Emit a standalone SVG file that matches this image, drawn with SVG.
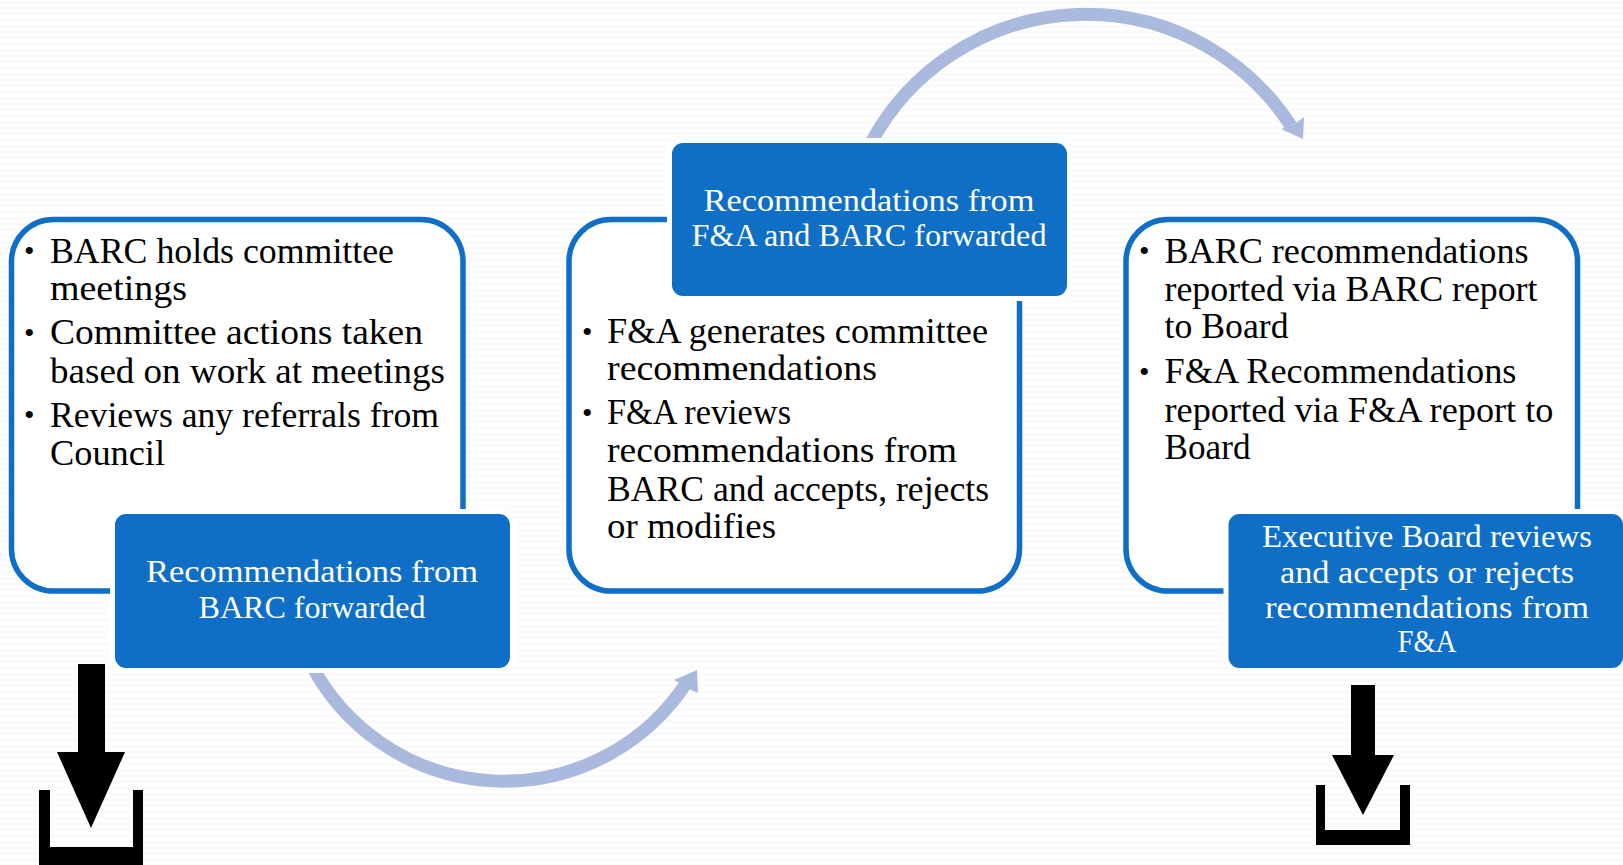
<svg xmlns="http://www.w3.org/2000/svg" width="1623" height="865" viewBox="0 0 1623 865">
<style>
.panel{fill:#fff;stroke:#0f6fc6;stroke-width:5.500}
.halo{fill:#0f6fc6;stroke:#fff;stroke-width:10;paint-order:stroke}
.curve{fill:none;stroke:#a9bade;stroke-width:13}
.head{fill:#a9bade}
.black{fill:#000}
text{font-family:"Liberation Serif","DejaVu Serif",serif}
.b{font-size:36px;fill:#000}
.d{font-size:30px;fill:#000}
.w{font-size:32px;fill:#fff}
</style>
<defs>
<pattern id="weave" width="16" height="12" patternUnits="userSpaceOnUse">
<rect width="16" height="12" fill="#fefefe"/>
<path d="M0 3L4 1L8 3L12 1L16 3M0 9L4 7L8 9L12 7L16 9" fill="none" stroke="#fafafa" stroke-width="2"/>
</pattern>
</defs>
<rect width="1623" height="865" fill="url(#weave)"/>
<g id="connectors">
<path class="curve" d="M311 664A218 218 0 0 0 687 682"/>
<polygon class="head" points="697,670 674,680 681,684 689,689 698,693"/>
<path class="curve" d="M872 141A244 244 0 0 1 1291 126"/>
<polygon class="head" points="1304,117 1303,139 1281,129 1288,127 1296,123"/>
</g>
<g id="node-barc">
<rect class="panel" x="11.500" y="219.500" width="451.500" height="371.500" rx="42"/>
<text class="d" x="24" y="261">•</text>
<text class="b" x="50" y="262.500" textLength="344" lengthAdjust="spacingAndGlyphs">BARC holds committee</text>
<text class="b" x="50" y="300" textLength="137" lengthAdjust="spacingAndGlyphs">meetings</text>
<text class="d" x="24" y="343">•</text>
<text class="b" x="50" y="344" textLength="373" lengthAdjust="spacingAndGlyphs">Committee actions taken</text>
<text class="b" x="50" y="383" textLength="395" lengthAdjust="spacingAndGlyphs">based on work at meetings</text>
<text class="d" x="24" y="425">•</text>
<text class="b" x="50" y="427" textLength="389" lengthAdjust="spacingAndGlyphs">Reviews any referrals from</text>
<text class="b" x="50" y="465" textLength="115" lengthAdjust="spacingAndGlyphs">Council</text>
</g>
<g id="node-barc-forward">
<rect class="halo" x="115" y="514" width="395" height="154" rx="11"/>
<text class="w" x="312" y="582" text-anchor="middle" textLength="332" lengthAdjust="spacingAndGlyphs">Recommendations from</text>
<text class="w" x="312" y="618" text-anchor="middle" textLength="227" lengthAdjust="spacingAndGlyphs">BARC forwarded</text>
</g>
<g id="node-fa">
<rect class="panel" x="569" y="219.500" width="450.500" height="371.500" rx="42"/>
<text class="d" x="582" y="342">•</text>
<text class="b" x="607" y="343" textLength="381" lengthAdjust="spacingAndGlyphs">F&amp;A generates committee</text>
<text class="b" x="607" y="380" textLength="270" lengthAdjust="spacingAndGlyphs">recommendations</text>
<text class="d" x="582" y="423">•</text>
<text class="b" x="607" y="424" textLength="184" lengthAdjust="spacingAndGlyphs">F&amp;A reviews</text>
<text class="b" x="607" y="462" textLength="350" lengthAdjust="spacingAndGlyphs">recommendations from</text>
<text class="b" x="607" y="501" textLength="382" lengthAdjust="spacingAndGlyphs">BARC and accepts, rejects</text>
<text class="b" x="607" y="538" textLength="169" lengthAdjust="spacingAndGlyphs">or modifies</text>
</g>
<g id="node-fa-forward">
<rect class="halo" x="672" y="143" width="395" height="153" rx="11"/>
<text class="w" x="869" y="211" text-anchor="middle" textLength="331" lengthAdjust="spacingAndGlyphs">Recommendations from</text>
<text class="w" x="869" y="246" text-anchor="middle" textLength="355" lengthAdjust="spacingAndGlyphs">F&amp;A and BARC forwarded</text>
</g>
<g id="node-board">
<rect class="panel" x="1126" y="219.500" width="451.500" height="371.500" rx="42"/>
<text class="d" x="1139" y="261">•</text>
<text class="b" x="1164.500" y="262.500" textLength="364" lengthAdjust="spacingAndGlyphs">BARC recommendations</text>
<text class="b" x="1164.500" y="300.500" textLength="373" lengthAdjust="spacingAndGlyphs">reported via BARC report</text>
<text class="b" x="1164.500" y="338" textLength="124" lengthAdjust="spacingAndGlyphs">to Board</text>
<text class="d" x="1139" y="382">•</text>
<text class="b" x="1164.500" y="383" textLength="352" lengthAdjust="spacingAndGlyphs">F&amp;A Recommendations</text>
<text class="b" x="1164.500" y="421.500" textLength="389" lengthAdjust="spacingAndGlyphs">reported via F&amp;A report to</text>
<text class="b" x="1164.500" y="459" textLength="86" lengthAdjust="spacingAndGlyphs">Board</text>
</g>
<g id="node-board-review">
<rect class="halo" x="1228.500" y="514" width="394.500" height="154" rx="11"/>
<text class="w" x="1427" y="547" text-anchor="middle" textLength="330" lengthAdjust="spacingAndGlyphs">Executive Board reviews</text>
<text class="w" x="1427" y="583" text-anchor="middle" textLength="294" lengthAdjust="spacingAndGlyphs">and accepts or rejects</text>
<text class="w" x="1427" y="618" text-anchor="middle" textLength="324" lengthAdjust="spacingAndGlyphs">recommendations from</text>
<text class="w" x="1427" y="652" text-anchor="middle" textLength="59" lengthAdjust="spacingAndGlyphs">F&amp;A</text>
</g>
<g id="icon-left">
<polygon class="black" points="78,664 105,664 105,752 125,752 91,828 57,752 78,752"/>
<polygon class="black" points="39,790 50,790 50,847 133,847 133,790 143,790 143,865 39,865"/>
</g>
<g id="icon-right">
<polygon class="black" points="1351,685 1375,685 1375,755 1394,755 1363,815 1332,755 1351,755"/>
<polygon class="black" points="1316,785 1325,785 1325,830 1400,830 1400,785 1410,785 1410,845 1316,845"/>
</g>
</svg>
